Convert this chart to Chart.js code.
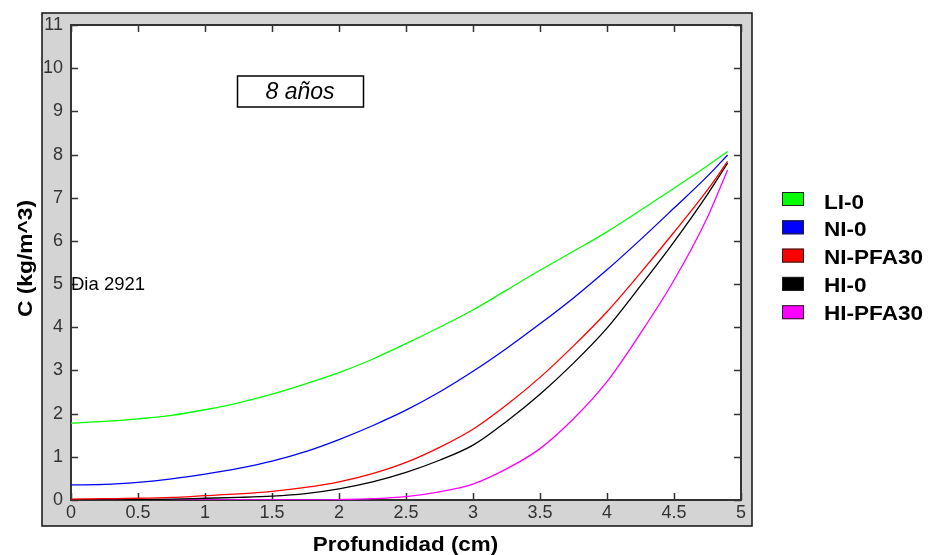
<!DOCTYPE html>
<html>
<head>
<meta charset="utf-8">
<title>8 años</title>
<script src="https://cdn.jsdelivr.net/npm/chart.js@4.4.0/dist/chart.umd.min.js"></script>
<style>
  html, body { margin: 0; padding: 0; background: #fff; }
  canvas { display: block; }
</style>
</head>
<body>
<canvas id="myChart" width="929" height="555"></canvas>
<script>
// profundidad (cm)
const depth = [0, 0.25, 0.5, 0.75, 1, 1.25, 1.5, 1.75, 2, 2.25, 2.5, 2.75, 3, 3.25, 3.5, 3.75, 4, 4.25, 4.5, 4.75, 4.9];

// concentracion C (kg/m^3), dia 2921
const li0 =     [1.78, 1.82, 1.88, 1.96, 2.09, 2.25, 2.45, 2.69, 2.95, 3.26, 3.62, 4.00, 4.40, 4.86, 5.32, 5.76, 6.21, 6.71, 7.22, 7.74, 8.07];
const ni0 =     [0.35, 0.36, 0.41, 0.49, 0.60, 0.73, 0.90, 1.12, 1.40, 1.72, 2.08, 2.50, 2.98, 3.51, 4.08, 4.68, 5.33, 6.03, 6.76, 7.50, 7.99];
const niPfa30 = [0.02, 0.03, 0.04, 0.06, 0.10, 0.14, 0.20, 0.29, 0.42, 0.61, 0.87, 1.22, 1.64, 2.20, 2.84, 3.57, 4.36, 5.26, 6.20, 7.18, 7.84];
const hi0 =     [0.00, 0.00, 0.01, 0.02, 0.04, 0.06, 0.09, 0.15, 0.26, 0.42, 0.64, 0.92, 1.27, 1.82, 2.45, 3.17, 3.98, 4.96, 5.98, 7.08, 7.80];
const hiPfa30 = [0.00, 0.00, 0.00, 0.00, 0.00, 0.00, 0.00, 0.00, 0.01, 0.03, 0.08, 0.19, 0.37, 0.72, 1.19, 1.88, 2.74, 3.86, 5.09, 6.55, 7.64];

const seriesNames = ["LI-0", "NI-0", "NI-PFA30", "HI-0", "HI-PFA30"];
const seriesValues = [li0, ni0, niPfa30, hi0, hiPfa30];
const seriesColors = ["#00ff00", "#0000ff", "#ff0000", "#000000", "#ff00ff"];

const xTickLabels = ["0", "0.5", "1", "1.5", "2", "2.5", "3", "3.5", "4", "4.5", "5"];
const yTickLabels = ["0", "1", "2", "3", "4", "5", "6", "7", "8", "9", "10", "11"];

const tickFont = { family: "'Liberation Sans', Arial, sans-serif", size: 18 };

function drawText(ctx, str, x, y, font, sx, align) {
  ctx.save();
  ctx.translate(x, y);
  ctx.scale(sx, 1);
  ctx.font = font;
  ctx.textAlign = align;
  ctx.textBaseline = "alphabetic";
  ctx.fillStyle = "#000";
  ctx.fillText(str, 0, 0);
  ctx.restore();
}

// marco gris, borde del grafico y marcas de los ejes hacia dentro
const framePlugin = {
  id: "frame",
  beforeDraw(chart) {
    const ctx = chart.ctx;
    const a = chart.chartArea;
    ctx.save();
    ctx.fillStyle = "#d4d4d4";
    ctx.fillRect(42, 13, 710, 513);
    ctx.strokeStyle = "#111";
    ctx.lineWidth = 1.5;
    ctx.strokeRect(42, 13, 710, 513);
    ctx.fillStyle = "#fff";
    ctx.fillRect(a.left, a.top, a.right - a.left, a.bottom - a.top);
    ctx.restore();
  },
  beforeDatasetsDraw(chart) {
    const ctx = chart.ctx;
    const a = chart.chartArea;
    const xs = chart.scales.x;
    const ys = chart.scales.y;
    ctx.save();
    ctx.strokeStyle = "#333";
    ctx.lineWidth = 2;
    ctx.strokeRect(a.left, a.top, a.right - a.left, a.bottom - a.top);
    ctx.lineWidth = 1.5;
    ctx.beginPath();
    xs.ticks.forEach(t => {
      const px = Math.round(xs.getPixelForValue(t.value)) + 0.5;
      ctx.moveTo(px, a.bottom); ctx.lineTo(px, a.bottom - 7);
      ctx.moveTo(px, a.top); ctx.lineTo(px, a.top + 7);
    });
    ys.ticks.forEach(t => {
      const py = Math.round(ys.getPixelForValue(t.value)) + 0.5;
      ctx.moveTo(a.left, py); ctx.lineTo(a.left + 7, py);
      ctx.moveTo(a.right, py); ctx.lineTo(a.right - 7, py);
    });
    ctx.stroke();
    ctx.restore();
  },
  afterDraw(chart) {
    const ctx = chart.ctx;
    const bold = "bold 20px 'Liberation Sans', Arial, sans-serif";

    // titulos de los ejes
    drawText(ctx, "Profundidad (cm)", 405.5, 551, bold, 1.12, "center");
    ctx.save();
    ctx.translate(32, 258.5);
    ctx.rotate(-Math.PI / 2);
    drawText(ctx, "C (kg/m^3)", 0, 0, bold, 1.14, "center");
    ctx.restore();

    // recuadro "8 años"
    ctx.save();
    ctx.strokeStyle = "#000";
    ctx.lineWidth = 1.5;
    ctx.strokeRect(237.5, 76, 126, 31);
    ctx.restore();
    drawText(ctx, "8 años", 300, 99, "italic 23px 'Liberation Sans', Arial, sans-serif", 1, "center");

    drawText(ctx, "Dia 2921", 71, 290, "18.5px 'Liberation Sans', Arial, sans-serif", 1, "left");

    // leyenda
    chart.data.datasets.forEach((ds, i) => {
      const top = 192 + 28.3 * i;
      ctx.save();
      ctx.fillStyle = ds.borderColor;
      ctx.fillRect(782, top, 22, 14);
      ctx.strokeStyle = "#222";
      ctx.lineWidth = 1;
      ctx.strokeRect(782.5, top + 0.5, 21, 13);
      ctx.restore();
      drawText(ctx, ds.label, 824, 208.5 + 27.8 * i, "bold 20.5px 'Liberation Sans', Arial, sans-serif", 1.1, "left");
    });
  }
};

const ctx = document.getElementById("myChart");

new Chart(ctx, {
  type: "line",
  data: {
    datasets: seriesNames.map((name, i) => ({
      label: name,
      data: depth.map((d, j) => ({ x: d, y: seriesValues[i][j] })),
      borderColor: seriesColors[i],
      backgroundColor: seriesColors[i],
      borderWidth: 1.3,
      pointRadius: 0,
      fill: false,
      cubicInterpolationMode: "monotone",
    })),
  },
  options: {
    responsive: false,
    animation: false,
    devicePixelRatio: 1,
    layout: { padding: { left: 0, top: 25, right: 188, bottom: 0 } },
    plugins: {
      legend: { display: false },
      tooltip: { enabled: false },
    },
    scales: {
      x: {
        type: "linear",
        min: 0,
        max: 5,
        afterFit: s => { s.height = 55; },
        grid: { display: false, drawTicks: false },
        border: { display: false },
        ticks: {
          stepSize: 0.5,
          padding: 2,
          maxRotation: 0,
          autoSkip: false,
          color: "#333",
          font: tickFont,
          callback: v => xTickLabels[Math.round(v * 2)],
        },
      },
      y: {
        min: 0,
        max: 11,
        afterFit: s => { s.width = 71; },
        grid: { display: false, drawTicks: false },
        border: { display: false },
        ticks: {
          stepSize: 1,
          padding: 8,
          color: "#333",
          font: tickFont,
          callback: v => yTickLabels[v],
        },
      },
    },
  },
  plugins: [framePlugin],
});
</script>
</body>
</html>
